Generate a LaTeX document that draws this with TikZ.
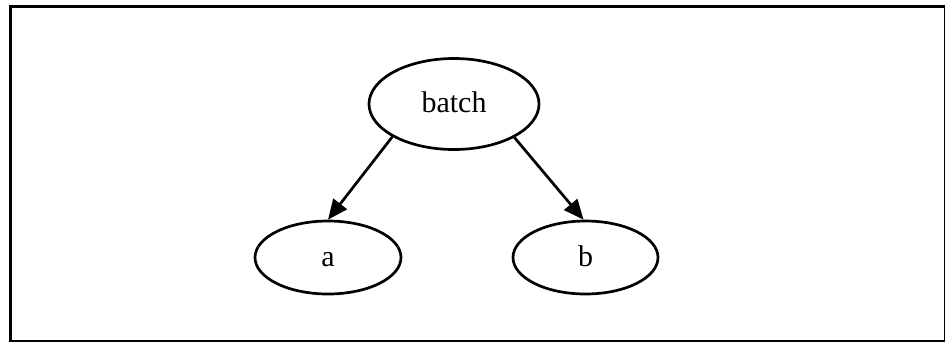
\documentclass[tikz,border=0pt]{standalone}
\usepackage{fontspec}
\setmainfont{Liberation Serif}
\usetikzlibrary{shapes.geometric,arrows.meta}
\begin{document}
\begin{tikzpicture}[x=1pt,y=-1pt,
  nodeell/.style={draw,ellipse,line width=2.7pt,inner sep=0pt,text height=22pt,text depth=4.5pt,font=\fontsize{30}{34}\selectfont},
  conn/.style={line width=2.7pt,-{Triangle[length=20pt,width=17pt]}}]
\useasboundingbox (0,0) rectangle (945,341);
\draw[line width=3pt] (10,6) rectangle (945.5,341.5);
\node[nodeell,minimum width=170pt,minimum height=91pt] (batch) at (454,104) {batch};
\node[nodeell,minimum width=146pt,minimum height=73pt] (a) at (328,257.5) {a};
\node[nodeell,minimum width=145pt,minimum height=73pt] (b) at (585.5,257.5) {b};
\draw[conn] (batch.208) -- (a.north);
\draw[conn] (batch.331) -- ([xshift=-2pt]b.north);
\end{tikzpicture}
\end{document}
